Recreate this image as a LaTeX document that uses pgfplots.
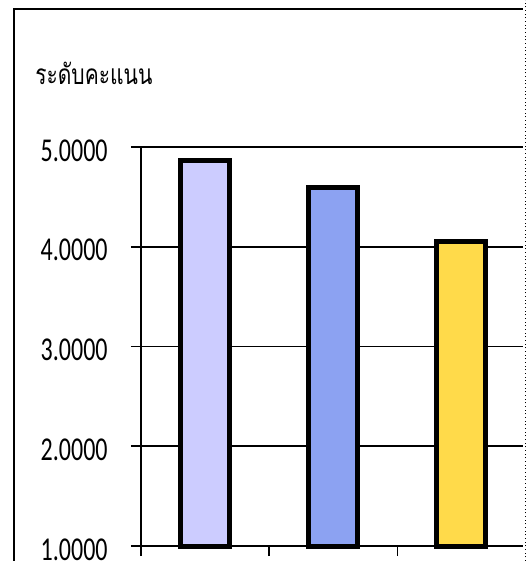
\documentclass[border=0pt]{standalone}
\usepackage{pgfplots}
\pgfplotsset{compat=1.18}
\usepackage{fontspec}
\setmainfont[Script=Thai]{Loma}
\newfontfamily\narrowfont[Script=Thai, FakeStretch=0.75]{Loma}
\newfontfamily\digitfont[FakeStretch=0.72]{Carlito}
\definecolor{barA}{HTML}{CCCCFF}
\definecolor{barB}{HTML}{8CA2F2}
\definecolor{barC}{HTML}{FFDA4A}
\begin{document}
\begin{tikzpicture}[x=0.75pt,y=0.75pt]
\useasboundingbox (0,0) rectangle (529,561);
\clip (0,0) rectangle (529,561);
% chart frame (cropped)
\draw[line width=1.5pt] (13.5,0) -- (13.5,551.5) -- (523,551.5);
\draw[dotted, line width=0.75pt] (525.5,0) -- (525.5,561);
\node[anchor=base west, inner sep=0pt, font=\narrowfont\fontsize{21}{26}\selectfont] at (35,476) {ระดับคะแนน};
\begin{axis}[
  at={(105.75pt,11.25pt)}, anchor=south west,
  scale only axis, width=286.5pt, height=299.25pt,
  xmin=0.5, xmax=3.48, ymin=0, ymax=4,
  axis x line*=bottom, axis y line*=left,
  axis line style={-, black, line width=1.2pt},
  xtick={0.5,1.5,2.5}, xticklabels={,,},
  ytick={0,1,2,3,4},
  yticklabels={1.0000,2.0000,3.0000,4.0000,5.0000},
  ymajorgrids, grid style={black, line width=1.2pt},
  tick style={black, line width=1.2pt},
  major tick length=7.5pt, tick align=outside,
  yticklabel style={font=\digitfont\fontsize{25}{30}\selectfont, yshift=-2.6pt, xshift=-14pt},
  y filter/.expression={y-1},
  clip=false,
]
\addplot[ybar, bar width=36.75pt, bar shift=0pt, fill=barA, draw=black, line width=3.75pt] coordinates {(1,4.86)};
\addplot[ybar, bar width=36.75pt, bar shift=0pt, fill=barB, draw=black, line width=3.75pt] coordinates {(2,4.59)};
\addplot[ybar, bar width=36.75pt, bar shift=0pt, fill=barC, draw=black, line width=3.75pt] coordinates {(3,4.05)};
\end{axis}
\end{tikzpicture}
\end{document}
